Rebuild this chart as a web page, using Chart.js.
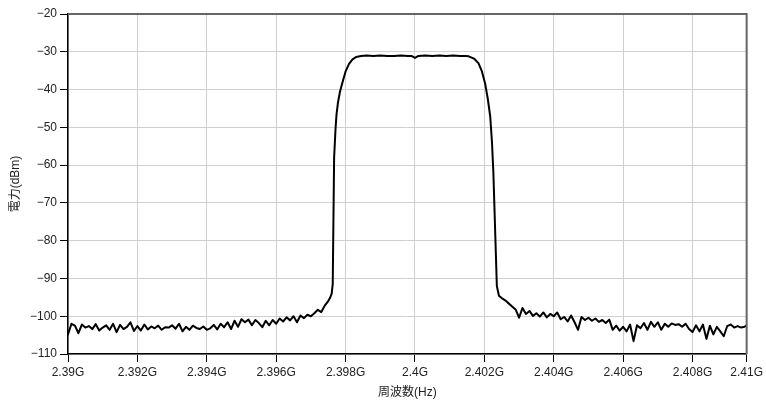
<!DOCTYPE html>
<html>
<head>
<meta charset="utf-8">
<script src="https://cdn.jsdelivr.net/npm/chart.js@4.4.1/dist/chart.umd.min.js"></script>
<style>
  html, body { margin: 0; padding: 0; background: #fff; }
  #wrap { width: 766px; height: 402px; }
</style>
</head>
<body>
<div id="wrap"><canvas id="myChart"></canvas></div>
<script>
// frequency in MHz, power in dBm
const freqs = [
  2390.0, 2390.1, 2390.2, 2390.3, 2390.4, 2390.5, 2390.6, 2390.7, 2390.8, 2390.9,
  2391.0, 2391.1, 2391.2, 2391.3, 2391.4, 2391.5, 2391.6, 2391.7, 2391.8, 2391.9,
  2392.0, 2392.1, 2392.2, 2392.3, 2392.4, 2392.5, 2392.6, 2392.7, 2392.8, 2392.9,
  2393.0, 2393.1, 2393.2, 2393.3, 2393.4, 2393.5, 2393.6, 2393.7, 2393.8, 2393.9,
  2394.0, 2394.1, 2394.2, 2394.3, 2394.4, 2394.5, 2394.6, 2394.7, 2394.8, 2394.9,
  2395.0, 2395.1, 2395.2, 2395.3, 2395.4, 2395.5, 2395.6, 2395.7, 2395.8, 2395.9,
  2396.0, 2396.1, 2396.2, 2396.3, 2396.4, 2396.5, 2396.6, 2396.7, 2396.8, 2396.9,
  2397.0, 2397.1, 2397.2, 2397.3, 2397.4, 2397.5, 2397.55,
  2397.6, 2397.63, 2397.67, 2397.71, 2397.74, 2397.78, 2397.84, 2397.92,
  2398.0, 2398.1, 2398.2, 2398.3, 2398.45,
  2398.6, 2398.8, 2399.0, 2399.2, 2399.4, 2399.6, 2399.8, 2399.9, 2400.0, 2400.1,
  2400.3, 2400.5, 2400.7, 2400.9, 2401.1, 2401.3, 2401.45,
  2401.55, 2401.7, 2401.83, 2401.93, 2402.02, 2402.1, 2402.17, 2402.22, 2402.26,
  2402.36, 2402.42, 2402.5, 2402.6, 2402.7,
  2402.8, 2402.9, 2403.0, 2403.1, 2403.2, 2403.3, 2403.4, 2403.5, 2403.6, 2403.7,
  2403.8, 2403.9, 2404.0, 2404.1, 2404.2, 2404.3, 2404.4, 2404.5, 2404.6, 2404.7,
  2404.8, 2404.9, 2405.0, 2405.1, 2405.2, 2405.3, 2405.4, 2405.5, 2405.6, 2405.7,
  2405.8, 2405.9, 2406.0, 2406.1, 2406.2, 2406.3, 2406.4, 2406.5, 2406.6, 2406.7,
  2406.8, 2406.9, 2407.0, 2407.1, 2407.2, 2407.3, 2407.4, 2407.5, 2407.6, 2407.7,
  2407.8, 2407.9, 2408.0, 2408.1, 2408.2, 2408.3, 2408.4, 2408.5, 2408.6, 2408.7,
  2408.8, 2408.9, 2409.0, 2409.1, 2409.2, 2409.3, 2409.4, 2409.5, 2409.56
];

const power = [
  -104.8, -102.0, -102.5, -104.5, -102.2, -103.0, -102.6, -103.4, -102.1, -103.8,
  -103.0, -102.4, -103.6, -102.0, -104.2, -102.3, -103.4, -102.8, -101.6, -103.9,
  -102.6, -103.8, -102.2, -103.5, -102.7, -103.2, -102.5, -103.6, -102.9, -103.0,
  -102.4, -103.3, -102.0, -104.0, -102.8, -103.6, -102.5, -103.1, -103.4, -102.7,
  -103.6, -103.2, -102.3, -103.5, -102.0, -102.9, -101.6, -103.4, -101.2, -102.8,
  -100.8, -101.6, -100.9, -102.4, -101.0, -101.8, -102.9, -101.2, -102.4, -101.0,
  -102.0, -100.6, -101.4, -100.3, -101.1, -100.0, -101.6, -99.8, -100.5, -99.6,
  -100.0, -99.2, -98.3, -98.9, -97.2, -96.0, -95.2,
  -94.0, -91.5, -58.0, -50.5, -46.5, -43.5, -40.5, -37.8,
  -35.2, -33.2, -32.0, -31.4, -31.1,
  -31.0, -31.1, -31.0, -31.1, -31.1, -31.0, -31.1, -31.1, -31.6, -31.1,
  -31.0, -31.1, -31.0, -31.1, -31.0, -31.1, -31.1,
  -31.2, -31.8, -33.0, -35.2, -38.3, -42.5, -47.2, -54.0, -62.0,
  -92.0, -94.6, -95.2, -95.8, -96.6,
  -97.4, -98.2, -100.4, -97.8, -99.4, -98.6, -99.9, -99.2, -100.1, -99.0,
  -100.3, -99.4, -100.0, -99.0, -100.8, -100.2, -101.4, -99.8, -101.6, -103.6,
  -100.2, -101.0, -100.4, -101.2, -100.6, -101.5, -101.0, -101.8, -100.9, -103.6,
  -102.5, -103.8, -102.8, -104.0, -102.2, -106.6, -102.4, -103.2, -101.8, -103.6,
  -101.5, -102.8, -101.6, -103.6, -102.0, -102.8, -101.9, -102.3, -102.1, -102.8,
  -102.0, -103.4, -104.2, -102.4, -104.0, -102.2, -106.0, -102.5, -104.8, -102.8,
  -104.0, -105.3, -102.6, -102.2, -103.0, -102.6, -103.0, -102.8, -102.4
];

const xTicks = [2390, 2392, 2394, 2396, 2398, 2400, 2402, 2404, 2406, 2408, 2409.56];
const yMin = -110;
const yMax = -20;

const fontFamily = '"Liberation Sans", Arial, "Noto Sans CJK JP", sans-serif';

// gray frame on top and right of the plot
const frame = {
  id: 'frame',
  afterDraw(chart) {
    const { ctx, chartArea: a } = chart;
    ctx.save();
    ctx.strokeStyle = '#666';
    ctx.lineWidth = 2;
    ctx.beginPath();
    ctx.moveTo(a.left, a.top);
    ctx.lineTo(a.right, a.top);
    ctx.lineTo(a.right, a.bottom);
    ctx.stroke();
    ctx.restore();
  }
};

const ctx = document.getElementById('myChart');

new Chart(ctx, {
  type: 'line',
  data: {
    datasets: [{
      data: freqs.map((f, i) => ({ x: f, y: power[i] })),
      borderColor: '#000',
      borderWidth: 2,
      borderJoinStyle: 'round',
      borderCapStyle: 'round',
      pointRadius: 0,
      tension: 0
    }]
  },
  options: {
    responsive: true,
    maintainAspectRatio: false,
    animation: false,
    layout: { padding: { top: 14, right: 17, left: 8, bottom: 0 } },
    plugins: {
      legend: { display: false },
      tooltip: { enabled: false }
    },
    scales: {
      x: {
        type: 'linear',
        min: 2390,
        max: 2409.56,
        afterBuildTicks: (s) => { s.ticks = xTicks.map(v => ({ value: v })); },
        afterFit: (s) => { s.height = 48; },
        ticks: {
          color: '#222',
          font: { family: fontFamily, size: 12 },
          maxRotation: 0,
          autoSkip: false,
          padding: 3,
          callback: (v) => parseFloat((v / 1000).toFixed(3)) + 'G'
        },
        grid: { color: '#cfcfcf', lineWidth: 1, tickColor: '#000', tickLength: 8 },
        border: { color: '#000', width: 1.5 },
        title: {
          display: true,
          text: '周波数(Hz)',
          color: '#222',
          font: { family: fontFamily, size: 12 },
          padding: { top: 2, bottom: 2 }
        }
      },
      y: {
        min: yMin,
        max: yMax,
        afterFit: (s) => { s.width = 60; },
        ticks: {
          stepSize: 10,
          color: '#222',
          font: { family: fontFamily, size: 12 },
          padding: 3,
          callback: (v) => String(v).replace('-', '\u2212')
        },
        grid: { color: '#cfcfcf', lineWidth: 1, tickColor: '#000', tickLength: 8 },
        border: { color: '#000', width: 1.5 },
        title: {
          display: true,
          text: '電力(dBm)',
          color: '#222',
          font: { family: fontFamily, size: 12 },
          padding: { top: 0, bottom: 0 }
        }
      }
    }
  },
  plugins: [frame]
});
</script>
</body>
</html>
